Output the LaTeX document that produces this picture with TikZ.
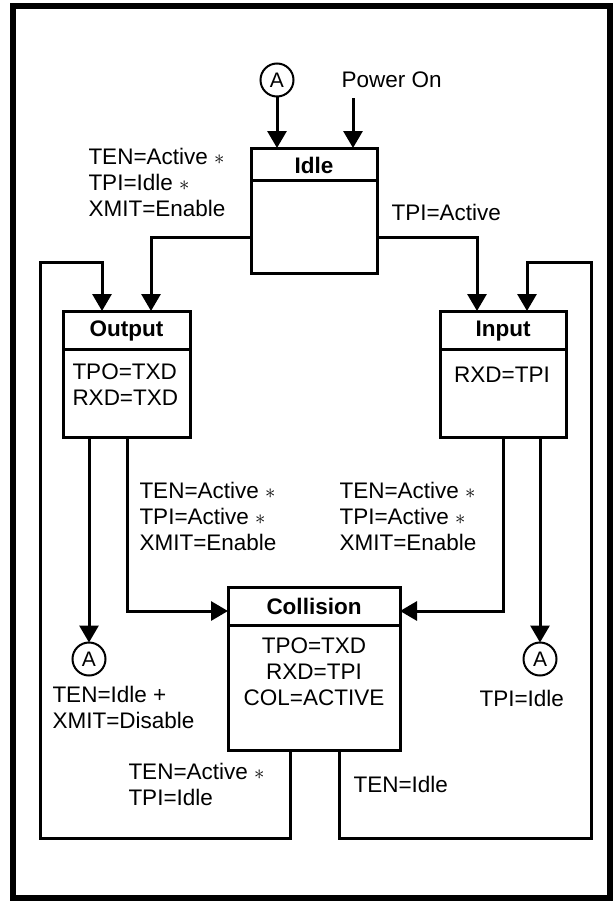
\documentclass[tikz,border=0pt]{standalone}
\usepackage{fontspec}
\setmainfont{Liberation Sans}
\usetikzlibrary{arrows.meta,calc}
\begin{document}
\begin{tikzpicture}[x=1pt,y=-1pt,line width=3pt,
  txt/.style={font=\fontsize{22.5}{26}\selectfont,inner sep=0pt,align=left,anchor=west},
  ttl/.style={font=\fontsize{22.5}{26}\selectfont\bfseries,inner sep=0pt},
  body/.style={font=\fontsize{22.5}{26}\selectfont,inner sep=0pt,align=center},
  statebox/.style={draw,line width=3pt,anchor=north west,inner sep=0pt,outer sep=0pt},
  conn/.style={draw,circle,line width=2pt,minimum size=33pt,inner sep=0pt,outer sep=0pt,font=\fontsize{21}{24}\selectfont},
  arr/.style={-{Triangle[width=19pt,length=17pt]},line width=3pt}]
\useasboundingbox (0,0) rectangle (614,902);
\draw[line width=6pt] (13,6) rectangle (610,898);

% state boxes
\node[statebox,minimum width=126pt,minimum height=125pt] (idle) at (251,148) {};
\node[statebox,minimum width=127pt,minimum height=126pt] (out) at (63,311) {};
\node[statebox,minimum width=126pt,minimum height=126pt] (in) at (440,311) {};
\node[statebox,minimum width=172pt,minimum height=163pt] (col) at (228,587) {};

\draw ([yshift=-32pt]idle.north west) -- ([yshift=-32pt]idle.north east);
\draw ([yshift=-38pt]out.north west) -- ([yshift=-38pt]out.north east);
\draw ([yshift=-38pt]in.north west) -- ([yshift=-38pt]in.north east);
\draw ([yshift=-38pt]col.north west) -- ([yshift=-38pt]col.north east);

\node[ttl] (idlet) at (314,165) {Idle};
\node[ttl] (outt) at (126.5,331) {Output};
\node[ttl] (int) at (503,331) {Input};
\node[ttl] (colt) at (314,606.5) {Collision};

\node[txt] (outb) at (71,385) {TPO=TXD\\RXD=TXD};
\node[body] (inb) at (502,375) {RXD=TPI};
\node[body] (colb) at (314,672) {TPO=TXD\\RXD=TPI\\COL=ACTIVE};

% connectors A
\node[conn] (a1) at (277,80) {A};
\node[conn] (a2) at (89,659) {A};
\node[conn] (a3) at (540,659) {A};

\node[txt] (pwr) at (340,80) {Power On};
\coordinate (pwrs) at (353,98);

% labels
\node[txt] (l1) at (87,182.5) {TEN=Active $\ast$\\TPI=Idle $\ast$\\XMIT=Enable};
\node[txt] (l2) at (390,212) {TPI=Active};
\node[txt] (l3) at (138,516) {TEN=Active $\ast$\\TPI=Active $\ast$\\XMIT=Enable};
\node[txt] (l4) at (338,516) {TEN=Active $\ast$\\TPI=Active $\ast$\\XMIT=Enable};
\node[txt] (l5) at (51,707.5) {TEN=Idle +\\XMIT=Disable};
\node[txt] (l6) at (478,698) {TPI=Idle};
\node[txt] (l7) at (127,784.5) {TEN=Active $\ast$\\TPI=Idle};
\node[txt] (l8) at (352,784) {TEN=Idle};

% arrows
\draw[arr] (a1) -- (a1 |- idle.north);
\draw[arr] (pwrs) -- (pwrs |- idle.north);
\draw[arr] ([yshift=36pt]idle.south west) -| ([xshift=88pt]out.north west);
\draw[arr] ([yshift=36pt]idle.south east) -| ([xshift=37pt]in.north west);
\draw[arr] ([xshift=62pt]col.south west) |- (40,838) -- (40,262) -| ([xshift=39pt]out.north west);
\draw[arr] ([xshift=111pt]col.south west) |- (591,838) -- (591,262) -| ([xshift=87pt]in.north west);
\draw[arr] ([xshift=26pt]out.south west) -- (a2);
\draw[arr] ([xshift=64pt]out.south west) |- ([yshift=-24pt]col.north west);
\draw[arr] ([xshift=63pt]in.south west) |- ([yshift=-24pt]col.north east);
\draw[arr] ([xshift=100pt]in.south west) -- (a3);
\end{tikzpicture}
\end{document}
